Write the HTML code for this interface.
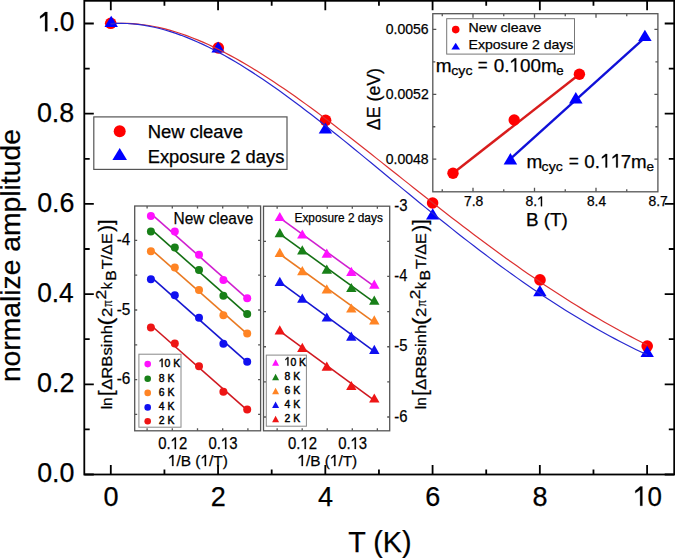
<!DOCTYPE html>
<html><head><meta charset="utf-8"><style>html,body{margin:0;padding:0;background:#fff;}svg{display:block}text{font-family:"Liberation Sans",sans-serif;fill:#000;stroke:#000;stroke-width:0.25px}</style></head>
<body><svg width="675" height="558" viewBox="0 0 675 558">
<rect width="675" height="558" fill="#fff"/>
<circle cx="110.70" cy="23.30" r="5.8" fill="#f00"/>
<circle cx="218.30" cy="47.90" r="5.8" fill="#f00"/>
<circle cx="325.60" cy="120.30" r="5.8" fill="#f00"/>
<circle cx="432.60" cy="203.00" r="5.8" fill="#f00"/>
<circle cx="540.00" cy="279.90" r="5.8" fill="#f00"/>
<circle cx="647.20" cy="346.10" r="5.8" fill="#f00"/>
<path d="M111.20,15.80L117.90,27.00L104.50,27.00Z" fill="#00f"/>
<path d="M218.10,41.40L224.80,52.60L211.40,52.60Z" fill="#00f"/>
<path d="M325.40,122.40L332.10,133.60L318.70,133.60Z" fill="#00f"/>
<path d="M432.70,208.20L439.40,219.40L426.00,219.40Z" fill="#00f"/>
<path d="M539.90,285.00L546.60,296.20L533.20,296.20Z" fill="#00f"/>
<path d="M647.20,345.70L653.90,356.90L640.50,356.90Z" fill="#00f"/>
<polyline points="110.80,23.75 116.22,23.43 121.63,23.30 127.05,23.37 132.47,23.64 137.89,24.09 143.30,24.72 148.72,25.53 154.14,26.50 159.55,27.65 164.97,28.95 170.39,30.41 175.81,32.02 181.22,33.77 186.64,35.67 192.06,37.70 197.47,39.87 202.89,42.16 208.31,44.57 213.73,47.10 219.14,49.75 224.56,52.50 229.98,55.36 235.39,58.32 240.81,61.38 246.23,64.52 251.65,67.76 257.06,71.08 262.48,74.48 267.90,77.96 273.32,81.51 278.73,85.13 284.15,88.81 289.57,92.56 294.98,96.36 300.40,100.22 305.82,104.13 311.24,108.09 316.65,112.09 322.07,116.13 327.49,120.21 332.90,124.32 338.32,128.47 343.74,132.64 349.16,136.84 354.57,141.06 359.99,145.30 365.41,149.56 370.82,153.83 376.24,158.11 381.66,162.40 387.08,166.70 392.49,171.00 397.91,175.31 403.33,179.61 408.74,183.90 414.16,188.20 419.58,192.48 425.00,196.76 430.41,201.02 435.83,205.27 441.25,209.50 446.66,213.71 452.08,217.91 457.50,222.08 462.92,226.23 468.33,230.35 473.75,234.45 479.17,238.52 484.58,242.56 490.00,246.56 495.42,250.54 500.84,254.48 506.25,258.39 511.67,262.26 517.09,266.09 522.51,269.89 527.92,273.65 533.34,277.36 538.76,281.04 544.17,284.67 549.59,288.26 555.01,291.81 560.43,295.31 565.84,298.77 571.26,302.18 576.68,305.55 582.09,308.87 587.51,312.14 592.93,315.37 598.35,318.55 603.76,321.69 609.18,324.77 614.60,327.81 620.01,330.81 625.43,333.75 630.85,336.65 636.27,339.50 641.68,342.31 647.10,345.07" fill="none" stroke="#dc3030" stroke-width="1.2"/>
<polyline points="110.80,23.59 116.22,23.35 121.63,23.32 127.05,23.49 132.47,23.86 137.89,24.43 143.30,25.19 148.72,26.13 154.14,27.24 159.55,28.53 164.97,29.99 170.39,31.61 175.81,33.38 181.22,35.31 186.64,37.38 192.06,39.59 197.47,41.94 202.89,44.42 208.31,47.03 213.73,49.75 219.14,52.60 224.56,55.56 229.98,58.62 235.39,61.79 240.81,65.06 246.23,68.42 251.65,71.87 257.06,75.41 262.48,79.02 267.90,82.72 273.32,86.49 278.73,90.32 284.15,94.23 289.57,98.19 294.98,102.21 300.40,106.29 305.82,110.41 311.24,114.58 316.65,118.80 322.07,123.05 327.49,127.34 332.90,131.66 338.32,136.01 343.74,140.39 349.16,144.79 354.57,149.21 359.99,153.64 365.41,158.09 370.82,162.55 376.24,167.02 381.66,171.49 387.08,175.96 392.49,180.43 397.91,184.90 403.33,189.37 408.74,193.82 414.16,198.27 419.58,202.70 425.00,207.11 430.41,211.51 435.83,215.89 441.25,220.24 446.66,224.57 452.08,228.88 457.50,233.16 462.92,237.41 468.33,241.62 473.75,245.80 479.17,249.95 484.58,254.06 490.00,258.13 495.42,262.17 500.84,266.16 506.25,270.11 511.67,274.01 517.09,277.87 522.51,281.68 527.92,285.45 533.34,289.17 538.76,292.84 544.17,296.45 549.59,300.02 555.01,303.54 560.43,307.00 565.84,310.41 571.26,313.76 576.68,317.06 582.09,320.31 587.51,323.50 592.93,326.63 598.35,329.71 603.76,332.73 609.18,335.70 614.60,338.61 620.01,341.46 625.43,344.26 630.85,347.00 636.27,349.68 641.68,352.31 647.10,354.88" fill="none" stroke="#2828d0" stroke-width="1.2"/>
<rect x="84.3" y="0.8" width="589.90" height="473.70" fill="none" stroke="#000" stroke-width="1.8"/>
<path d="M110.80,474.5v-9.5M110.80,0.8v9.5M164.43,474.5v-5M164.43,0.8v5M218.06,474.5v-9.5M218.06,0.8v9.5M271.69,474.5v-5M271.69,0.8v5M325.32,474.5v-9.5M325.32,0.8v9.5M378.95,474.5v-5M378.95,0.8v5M432.58,474.5v-9.5M432.58,0.8v9.5M486.21,474.5v-5M486.21,0.8v5M539.84,474.5v-9.5M539.84,0.8v9.5M593.47,474.5v-5M593.47,0.8v5M647.10,474.5v-9.5M647.10,0.8v9.5M84.3,474.50h9.5M674.2,474.50h-9.5M84.3,429.40h5.4M674.2,429.40h-5.4M84.3,384.30h9.5M674.2,384.30h-9.5M84.3,339.20h5.4M674.2,339.20h-5.4M84.3,294.10h9.5M674.2,294.10h-9.5M84.3,249.00h5.4M674.2,249.00h-5.4M84.3,203.90h9.5M674.2,203.90h-9.5M84.3,158.80h5.4M674.2,158.80h-5.4M84.3,113.70h9.5M674.2,113.70h-9.5M84.3,68.60h5.4M674.2,68.60h-5.4M84.3,23.50h9.5M674.2,23.50h-9.5" stroke="#000" stroke-width="1.8" fill="none"/>
<text x="111.10" y="505.80" font-size="27" text-anchor="middle">0</text>
<text x="218.36" y="505.80" font-size="27" text-anchor="middle">2</text>
<text x="325.62" y="505.80" font-size="27" text-anchor="middle">4</text>
<text x="432.88" y="505.80" font-size="27" text-anchor="middle">6</text>
<text x="540.14" y="505.80" font-size="27" text-anchor="middle">8</text>
<text x="633.06" y="505.80" font-size="27" textLength="28.81" lengthAdjust="spacingAndGlyphs"> 0</text>
<path d="M642.38,505.80L642.38,486.58L640.15,486.58L637.72,488.79L635.28,490.79L635.28,493.11L637.72,491.49L640.15,489.71L640.15,505.80Z" fill="#000" stroke="#000" stroke-width="0.25"/>
<text x="37.23" y="482.30" font-size="27" textLength="37.25" lengthAdjust="spacingAndGlyphs">0.0</text>
<text x="37.12" y="392.10" font-size="27" textLength="37.43" lengthAdjust="spacingAndGlyphs">0.2</text>
<text x="37.15" y="301.90" font-size="27" textLength="36.54" lengthAdjust="spacingAndGlyphs">0.4</text>
<text x="37.13" y="211.70" font-size="27" textLength="37.28" lengthAdjust="spacingAndGlyphs">0.6</text>
<text x="36.92" y="121.50" font-size="27" textLength="37.39" lengthAdjust="spacingAndGlyphs">0.8</text>
<text x="37.82" y="31.30" font-size="27" textLength="36.74" lengthAdjust="spacingAndGlyphs"> .0</text>
<path d="M47.33,31.30L47.33,12.08L45.06,12.08L42.58,14.29L40.09,16.29L40.09,18.61L42.58,16.99L45.06,15.21L45.06,31.30Z" fill="#000" stroke="#000" stroke-width="0.25"/>
<text x="348.18" y="551.60" font-size="29" textLength="63.35" lengthAdjust="spacingAndGlyphs">T (K)</text>
<text transform="translate(20,255.6) rotate(-90)" font-size="28.5" text-anchor="middle" textLength="253" lengthAdjust="spacingAndGlyphs">normalize amplitude</text>
<rect x="93.8" y="116.9" width="193.2" height="52.5" fill="#fff" stroke="#555" stroke-width="1.2"/>
<circle cx="119.70" cy="131.30" r="6" fill="#f00"/>
<path d="M119.70,148.00L127.00,160.00L112.40,160.00Z" fill="#00f"/>
<text x="147.67" y="137.80" font-size="17.5" textLength="95.49" lengthAdjust="spacingAndGlyphs">New cleave</text>
<text x="147.68" y="162.60" font-size="17.5" textLength="136.68" lengthAdjust="spacingAndGlyphs">Exposure 2 days</text>
<rect x="432.8" y="13.7" width="225.10" height="178.10" fill="#fff" stroke="#555" stroke-width="1.3"/>
<path d="M442.25,191.8v-2.5M442.25,13.7v2.5M473.00,191.8v-4M473.00,13.7v4M503.75,191.8v-2.5M503.75,13.7v2.5M534.50,191.8v-4M534.50,13.7v4M565.25,191.8v-2.5M565.25,13.7v2.5M596.00,191.8v-4M596.00,13.7v4M626.75,191.8v-2.5M626.75,13.7v2.5M432.8,159.20h3.5M657.9,159.20h-3.5M432.8,126.75h2.5M657.9,126.75h-2.5M432.8,94.30h3.5M657.9,94.30h-3.5M432.8,61.85h2.5M657.9,61.85h-2.5M432.8,29.40h3.5M657.9,29.40h-3.5" stroke="#555" stroke-width="1.3" fill="none"/>
<text x="463.91" y="206.30" font-size="13.8" textLength="19.32" lengthAdjust="spacingAndGlyphs">7.8</text>
<text x="525.47" y="206.30" font-size="13.8" textLength="19.32" lengthAdjust="spacingAndGlyphs">8. </text>
<path d="M542.07,206.30L542.07,196.47L540.88,196.47L539.57,197.61L538.26,198.63L538.26,199.81L539.57,198.99L540.88,198.08L540.88,206.30Z" fill="#000" stroke="#000" stroke-width="0.25"/>
<text x="586.98" y="206.30" font-size="13.8" textLength="19.03" lengthAdjust="spacingAndGlyphs">8.4</text>
<text x="648.47" y="206.30" font-size="13.8" textLength="19.32" lengthAdjust="spacingAndGlyphs">8.7</text>
<text x="385.79" y="163.60" font-size="14.5" textLength="42.87" lengthAdjust="spacingAndGlyphs">0.0048</text>
<text x="385.79" y="98.70" font-size="14.5" textLength="42.94" lengthAdjust="spacingAndGlyphs">0.0052</text>
<text x="385.79" y="33.80" font-size="14.5" textLength="42.87" lengthAdjust="spacingAndGlyphs">0.0056</text>
<text x="525.94" y="225.60" font-size="17.5" textLength="41.98" lengthAdjust="spacingAndGlyphs">B (T)</text>
<text transform="translate(379.70,130.18) rotate(-90)" font-size="17.5" textLength="62.23" lengthAdjust="spacingAndGlyphs">ΔE (eV)</text>
<path d="M453,173.3L579.4,74.2" stroke="#d81c1c" stroke-width="2.4"/>
<path d="M510.4,158.9L644.9,37.6" stroke="#1010d8" stroke-width="2.4"/>
<circle cx="453.00" cy="173.30" r="5.7" fill="#f00"/>
<circle cx="514.20" cy="120.00" r="5.7" fill="#f00"/>
<circle cx="579.40" cy="74.20" r="5.7" fill="#f00"/>
<path d="M510.40,153.00L517.15,164.40L503.65,164.40Z" fill="#00f"/>
<path d="M575.80,92.00L582.55,103.40L569.05,103.40Z" fill="#00f"/>
<path d="M644.90,29.70L651.65,41.10L638.15,41.10Z" fill="#00f"/>
<rect x="446.7" y="18.7" width="127.8" height="35.4" fill="#fff" stroke="#777" stroke-width="1"/>
<circle cx="455.70" cy="29.60" r="3.8" fill="#f00"/>
<path d="M455.70,42.80L460.00,49.40L451.40,49.40Z" fill="#00f"/>
<text x="468.52" y="32.20" font-size="13.5" textLength="72.74" lengthAdjust="spacingAndGlyphs">New cleave</text>
<text x="468.52" y="49.40" font-size="13.5" textLength="104.87" lengthAdjust="spacingAndGlyphs">Exposure 2 days</text>
<text x="435.81" y="71.80" font-size="19" textLength="15.83" lengthAdjust="spacingAndGlyphs">m</text>
<text x="451.31" y="74.70" font-size="13.5" textLength="21.19" lengthAdjust="spacingAndGlyphs">cyc</text>
<text x="477.70" y="70.90" font-size="19" textLength="9.87" lengthAdjust="spacingAndGlyphs">=</text>
<text x="493.69" y="71.80" font-size="19" textLength="62.99" lengthAdjust="spacingAndGlyphs">0. 00m</text>
<path d="M516.24,71.80L516.24,58.27L514.62,58.27L512.84,59.83L511.07,61.24L511.07,62.87L512.84,61.73L514.62,60.48L514.62,71.80Z" fill="#000" stroke="#000" stroke-width="0.25"/>
<text x="556.35" y="74.60" font-size="13.5" textLength="7.42" lengthAdjust="spacingAndGlyphs">e</text>
<text x="526.41" y="167.50" font-size="19" textLength="15.83" lengthAdjust="spacingAndGlyphs">m</text>
<text x="541.62" y="170.70" font-size="13.5" textLength="21.08" lengthAdjust="spacingAndGlyphs">cyc</text>
<text x="568.68" y="166.60" font-size="19" textLength="10.11" lengthAdjust="spacingAndGlyphs">=</text>
<text x="584.28" y="167.50" font-size="19" textLength="62.43" lengthAdjust="spacingAndGlyphs">0.  7m</text>
<path d="M607.14,167.50L607.14,153.97L605.50,153.97L603.70,155.53L601.90,156.94L601.90,158.57L603.70,157.43L605.50,156.18L605.50,167.50ZM617.79,167.50L617.79,153.97L616.14,153.97L614.34,155.53L612.54,156.94L612.54,158.57L614.34,157.43L616.14,156.18L616.14,167.50Z" fill="#000" stroke="#000" stroke-width="0.25"/>
<text x="646.44" y="170.50" font-size="13.5" textLength="7.54" lengthAdjust="spacingAndGlyphs">e</text>
<rect x="134.7" y="206" width="125.90" height="224.80" fill="#fff" stroke="#555" stroke-width="1.3"/>
<path d="M147.10,430.8v-2.5M147.10,206v2.5M172.30,430.8v-2.5M172.30,206v2.5M197.50,430.8v-2.5M197.50,206v2.5M222.70,430.8v-2.5M222.70,206v2.5M247.90,430.8v-2.5M247.90,206v2.5M134.7,240.40h2.5M260.6,240.40h-2.5M134.7,275.20h2.5M260.6,275.20h-2.5M134.7,310.00h2.5M260.6,310.00h-2.5M134.7,344.80h2.5M260.6,344.80h-2.5M134.7,379.60h2.5M260.6,379.60h-2.5M134.7,414.40h2.5M260.6,414.40h-2.5" stroke="#555" stroke-width="1.3" fill="none"/>
<path d="M150.9,213.58L247.2,298.60" stroke="#d020d0" stroke-width="1.6"/>
<circle cx="150.90" cy="216.00" r="4" fill="#ff10ff"/>
<circle cx="174.80" cy="231.60" r="4" fill="#ff10ff"/>
<circle cx="199.00" cy="254.70" r="4" fill="#ff10ff"/>
<circle cx="223.40" cy="279.90" r="4" fill="#ff10ff"/>
<circle cx="247.20" cy="298.30" r="4" fill="#ff10ff"/>
<path d="M150.9,229.22L247.2,314.28" stroke="#137013" stroke-width="1.6"/>
<circle cx="150.90" cy="231.60" r="4" fill="#188018"/>
<circle cx="174.80" cy="247.40" r="4" fill="#188018"/>
<circle cx="199.00" cy="270.10" r="4" fill="#188018"/>
<circle cx="223.40" cy="295.80" r="4" fill="#188018"/>
<circle cx="247.20" cy="313.90" r="4" fill="#188018"/>
<path d="M150.9,249.14L247.2,333.80" stroke="#ea7a22" stroke-width="1.6"/>
<circle cx="150.90" cy="251.20" r="4" fill="#ff8424"/>
<circle cx="174.80" cy="267.60" r="4" fill="#ff8424"/>
<circle cx="199.00" cy="290.00" r="4" fill="#ff8424"/>
<circle cx="223.40" cy="315.20" r="4" fill="#ff8424"/>
<circle cx="247.20" cy="333.40" r="4" fill="#ff8424"/>
<path d="M150.9,276.90L247.2,362.12" stroke="#1616d0" stroke-width="1.6"/>
<circle cx="150.90" cy="279.20" r="4" fill="#1010f0"/>
<circle cx="174.80" cy="295.30" r="4" fill="#1010f0"/>
<circle cx="199.00" cy="317.70" r="4" fill="#1010f0"/>
<circle cx="223.40" cy="343.70" r="4" fill="#1010f0"/>
<circle cx="247.20" cy="361.70" r="4" fill="#1010f0"/>
<path d="M150.9,325.26L247.2,410.16" stroke="#d01820" stroke-width="1.6"/>
<circle cx="150.90" cy="327.50" r="4" fill="#ee1515"/>
<circle cx="174.80" cy="343.40" r="4" fill="#ee1515"/>
<circle cx="199.00" cy="366.30" r="4" fill="#ee1515"/>
<circle cx="223.40" cy="391.80" r="4" fill="#ee1515"/>
<circle cx="247.20" cy="409.60" r="4" fill="#ee1515"/>
<text x="173.52" y="223.80" font-size="16.5" textLength="79.71" lengthAdjust="spacingAndGlyphs">New cleave</text>
<text x="116.67" y="245.00" font-size="17" textLength="13.42" lengthAdjust="spacingAndGlyphs">-4</text>
<text x="116.66" y="314.60" font-size="17" textLength="13.67" lengthAdjust="spacingAndGlyphs">-5</text>
<text x="116.66" y="384.20" font-size="17" textLength="13.67" lengthAdjust="spacingAndGlyphs">-6</text>
<text x="158.15" y="449.00" font-size="16.2" textLength="29.06" lengthAdjust="spacingAndGlyphs">0. 2</text>
<path d="M175.98,449.00L175.98,437.47L174.70,437.47L173.29,438.79L171.89,439.99L171.89,441.39L173.29,440.41L174.70,439.34L174.70,449.00Z" fill="#000" stroke="#000" stroke-width="0.25"/>
<text x="208.55" y="449.00" font-size="16.2" textLength="28.99" lengthAdjust="spacingAndGlyphs">0. 3</text>
<path d="M226.34,449.00L226.34,437.47L225.05,437.47L223.66,438.79L222.26,439.99L222.26,441.39L223.66,440.41L225.05,439.34L225.05,449.00Z" fill="#000" stroke="#000" stroke-width="0.25"/>
<text x="167.89" y="466.00" font-size="15.5" textLength="60.06" lengthAdjust="spacingAndGlyphs"> /B ( /T)</text>
<path d="M173.45,466.00L173.45,454.96L172.12,454.96L170.67,456.24L169.22,457.38L169.22,458.71L170.67,457.79L172.12,456.76L172.12,466.00ZM206.06,466.00L206.06,454.96L204.73,454.96L203.28,456.24L201.83,457.38L201.83,458.71L203.28,457.79L204.73,456.76L204.73,466.00Z" fill="#000" stroke="#000" stroke-width="0.25"/>
<text transform="translate(111.50,409.36) rotate(-90)" font-size="15.5" textLength="12.09" lengthAdjust="spacingAndGlyphs">ln</text>
<text transform="translate(113.00,395.95) rotate(-90)" font-size="21" textLength="5.56" lengthAdjust="spacingAndGlyphs">[</text>
<text transform="translate(111.50,389.85) rotate(-90)" font-size="15.5" textLength="64.81" lengthAdjust="spacingAndGlyphs">ΔRBsinh</text>
<text transform="translate(113.00,325.55) rotate(-90)" font-size="21" textLength="7.79" lengthAdjust="spacingAndGlyphs">(</text>
<text transform="translate(111.50,317.09) rotate(-90)" font-size="15.5" textLength="9.29" lengthAdjust="spacingAndGlyphs">2</text>
<text transform="translate(111.50,306.95) rotate(-90)" font-size="12.5" textLength="6.96" lengthAdjust="spacingAndGlyphs">π</text>
<text transform="translate(106.10,299.52) rotate(-90)" font-size="14" textLength="9.66" lengthAdjust="spacingAndGlyphs">2</text>
<text transform="translate(111.50,289.16) rotate(-90)" font-size="15.5" textLength="7.01" lengthAdjust="spacingAndGlyphs">k</text>
<text transform="translate(115.80,280.81) rotate(-90)" font-size="14" textLength="10.47" lengthAdjust="spacingAndGlyphs">B</text>
<text transform="translate(111.50,269.25) rotate(-90)" font-size="15.5" textLength="35.91" lengthAdjust="spacingAndGlyphs">T/ΔE</text>
<text transform="translate(113.00,231.75) rotate(-90)" font-size="21" textLength="6.66" lengthAdjust="spacingAndGlyphs">)</text>
<text transform="translate(113.00,225.04) rotate(-90)" font-size="21" textLength="5.42" lengthAdjust="spacingAndGlyphs">]</text>
<rect x="138.9" y="354.2" width="42.10" height="73.00" fill="#fff" stroke="#888" stroke-width="1"/>
<circle cx="147.70" cy="364.10" r="3.3" fill="#ff10ff"/>
<text x="158.80" y="367.10" font-size="11.8" textLength="21.5" lengthAdjust="spacingAndGlyphs" style="stroke-width:0.45px"> 0 K</text>
<path d="M162.56,367.10L162.56,358.70L161.66,358.70L160.68,359.67L159.70,360.54L159.70,361.55L160.68,360.85L161.66,360.07L161.66,367.10Z" fill="#000" stroke="#000" stroke-width="0.45"/>
<circle cx="147.70" cy="378.80" r="3.3" fill="#188018"/>
<text x="158.80" y="381.80" font-size="11.8" textLength="15.6" lengthAdjust="spacingAndGlyphs" style="stroke-width:0.45px">8 K</text>
<circle cx="147.70" cy="392.90" r="3.3" fill="#ff8424"/>
<text x="158.80" y="395.90" font-size="11.8" textLength="15.6" lengthAdjust="spacingAndGlyphs" style="stroke-width:0.45px">6 K</text>
<circle cx="147.70" cy="407.40" r="3.3" fill="#1010f0"/>
<text x="158.80" y="410.40" font-size="11.8" textLength="15.6" lengthAdjust="spacingAndGlyphs" style="stroke-width:0.45px">4 K</text>
<circle cx="147.70" cy="421.30" r="3.3" fill="#ee1515"/>
<text x="158.80" y="424.30" font-size="11.8" textLength="15.6" lengthAdjust="spacingAndGlyphs" style="stroke-width:0.45px">2 K</text>
<rect x="263.5" y="206.2" width="126.20" height="224.60" fill="#fff" stroke="#555" stroke-width="1.3"/>
<path d="M277.15,430.8v-2.5M277.15,206.2v2.5M302.20,430.8v-2.5M302.20,206.2v2.5M327.25,430.8v-2.5M327.25,206.2v2.5M352.30,430.8v-2.5M352.30,206.2v2.5M377.35,430.8v-2.5M377.35,206.2v2.5M263.5,241.33h2.5M389.7,241.33h-2.5M263.5,276.47h2.5M389.7,276.47h-2.5M263.5,311.61h2.5M389.7,311.61h-2.5M263.5,346.74h2.5M389.7,346.74h-2.5M263.5,381.88h2.5M389.7,381.88h-2.5M263.5,417.01h2.5M389.7,417.01h-2.5" stroke="#555" stroke-width="1.3" fill="none"/>
<path d="M279.8,217.86L374.3,286.40" stroke="#d020d0" stroke-width="1.6"/>
<path d="M279.80,211.90L285.00,221.10L274.60,221.10Z" fill="#ff10ff"/>
<path d="M302.30,229.40L307.50,238.60L297.10,238.60Z" fill="#ff10ff"/>
<path d="M326.80,248.50L332.00,257.70L321.60,257.70Z" fill="#ff10ff"/>
<path d="M351.30,266.80L356.50,276.00L346.10,276.00Z" fill="#ff10ff"/>
<path d="M374.30,279.50L379.50,288.70L369.10,288.70Z" fill="#ff10ff"/>
<path d="M279.8,233.85L374.3,302.44" stroke="#137013" stroke-width="1.6"/>
<path d="M279.80,228.00L285.00,237.20L274.60,237.20Z" fill="#188018"/>
<path d="M302.30,245.20L307.50,254.40L297.10,254.40Z" fill="#188018"/>
<path d="M326.80,264.60L332.00,273.80L321.60,273.80Z" fill="#188018"/>
<path d="M351.30,282.90L356.50,292.10L346.10,292.10Z" fill="#188018"/>
<path d="M374.30,295.50L379.50,304.70L369.10,304.70Z" fill="#188018"/>
<path d="M279.8,254.00L374.3,322.46" stroke="#ea7a22" stroke-width="1.6"/>
<path d="M279.80,247.70L285.00,256.90L274.60,256.90Z" fill="#ff8424"/>
<path d="M302.30,266.00L307.50,275.20L297.10,275.20Z" fill="#ff8424"/>
<path d="M326.80,284.30L332.00,293.50L321.60,293.50Z" fill="#ff8424"/>
<path d="M351.30,303.40L356.50,312.60L346.10,312.60Z" fill="#ff8424"/>
<path d="M374.30,315.20L379.50,324.40L369.10,324.40Z" fill="#ff8424"/>
<path d="M279.8,282.14L374.3,351.28" stroke="#1616d0" stroke-width="1.6"/>
<path d="M279.80,276.70L285.00,285.90L274.60,285.90Z" fill="#1010f0"/>
<path d="M302.30,293.60L307.50,302.80L297.10,302.80Z" fill="#1010f0"/>
<path d="M326.80,312.40L332.00,321.60L321.60,321.60Z" fill="#1010f0"/>
<path d="M351.30,331.50L356.50,340.70L346.10,340.70Z" fill="#1010f0"/>
<path d="M374.30,344.80L379.50,354.00L369.10,354.00Z" fill="#1010f0"/>
<path d="M279.8,331.04L374.3,400.34" stroke="#d01820" stroke-width="1.6"/>
<path d="M279.80,325.20L285.00,334.40L274.60,334.40Z" fill="#ee1515"/>
<path d="M302.30,342.80L307.50,352.00L297.10,352.00Z" fill="#ee1515"/>
<path d="M326.80,361.60L332.00,370.80L321.60,370.80Z" fill="#ee1515"/>
<path d="M351.30,380.90L356.50,390.10L346.10,390.10Z" fill="#ee1515"/>
<path d="M374.30,393.40L379.50,402.60L369.10,402.60Z" fill="#ee1515"/>
<text x="294.50" y="222.40" font-size="12.5" textLength="88.31" lengthAdjust="spacingAndGlyphs">Exposure 2 days</text>
<text x="394.28" y="210.80" font-size="17" textLength="13.23" lengthAdjust="spacingAndGlyphs">-3</text>
<text x="394.29" y="281.07" font-size="17" textLength="12.98" lengthAdjust="spacingAndGlyphs">-4</text>
<text x="394.28" y="351.34" font-size="17" textLength="13.23" lengthAdjust="spacingAndGlyphs">-5</text>
<text x="394.28" y="421.61" font-size="17" textLength="13.23" lengthAdjust="spacingAndGlyphs">-6</text>
<text x="288.05" y="449.00" font-size="16.2" textLength="29.06" lengthAdjust="spacingAndGlyphs">0. 2</text>
<path d="M305.88,449.00L305.88,437.47L304.60,437.47L303.19,438.79L301.79,439.99L301.79,441.39L303.19,440.41L304.60,439.34L304.60,449.00Z" fill="#000" stroke="#000" stroke-width="0.25"/>
<text x="338.15" y="449.00" font-size="16.2" textLength="28.99" lengthAdjust="spacingAndGlyphs">0. 3</text>
<path d="M355.94,449.00L355.94,437.47L354.65,437.47L353.26,438.79L351.86,439.99L351.86,441.39L353.26,440.41L354.65,439.34L354.65,449.00Z" fill="#000" stroke="#000" stroke-width="0.25"/>
<text x="297.40" y="466.00" font-size="15.5" textLength="59.85" lengthAdjust="spacingAndGlyphs"> /B ( /T)</text>
<path d="M302.94,466.00L302.94,454.96L301.61,454.96L300.17,456.24L298.72,457.38L298.72,458.71L300.17,457.79L301.61,456.76L301.61,466.00ZM335.43,466.00L335.43,454.96L334.11,454.96L332.66,456.24L331.21,457.38L331.21,458.71L332.66,457.79L334.11,456.76L334.11,466.00Z" fill="#000" stroke="#000" stroke-width="0.25"/>
<text transform="translate(425.50,409.16) rotate(-90)" font-size="15.5" textLength="12.09" lengthAdjust="spacingAndGlyphs">ln</text>
<text transform="translate(427.00,395.75) rotate(-90)" font-size="21" textLength="5.56" lengthAdjust="spacingAndGlyphs">[</text>
<text transform="translate(425.50,389.65) rotate(-90)" font-size="15.5" textLength="64.81" lengthAdjust="spacingAndGlyphs">ΔRBsinh</text>
<text transform="translate(427.00,325.35) rotate(-90)" font-size="21" textLength="7.79" lengthAdjust="spacingAndGlyphs">(</text>
<text transform="translate(425.50,316.89) rotate(-90)" font-size="15.5" textLength="9.29" lengthAdjust="spacingAndGlyphs">2</text>
<text transform="translate(425.50,306.75) rotate(-90)" font-size="12.5" textLength="6.96" lengthAdjust="spacingAndGlyphs">π</text>
<text transform="translate(420.10,299.32) rotate(-90)" font-size="14" textLength="9.66" lengthAdjust="spacingAndGlyphs">2</text>
<text transform="translate(425.50,288.96) rotate(-90)" font-size="15.5" textLength="7.01" lengthAdjust="spacingAndGlyphs">k</text>
<text transform="translate(429.80,280.61) rotate(-90)" font-size="14" textLength="10.47" lengthAdjust="spacingAndGlyphs">B</text>
<text transform="translate(425.50,269.05) rotate(-90)" font-size="15.5" textLength="35.91" lengthAdjust="spacingAndGlyphs">T/ΔE</text>
<text transform="translate(427.00,231.55) rotate(-90)" font-size="21" textLength="6.66" lengthAdjust="spacingAndGlyphs">)</text>
<text transform="translate(427.00,224.84) rotate(-90)" font-size="21" textLength="5.42" lengthAdjust="spacingAndGlyphs">]</text>
<rect x="266.3" y="355.1" width="40.10" height="71.10" fill="#fff" stroke="#888" stroke-width="1"/>
<path d="M275.60,359.35L279.10,365.85L272.10,365.85Z" fill="#ff10ff"/>
<text x="284.60" y="365.60" font-size="11.8" textLength="21.5" lengthAdjust="spacingAndGlyphs" style="stroke-width:0.45px"> 0 K</text>
<path d="M288.36,365.60L288.36,357.20L287.46,357.20L286.48,358.17L285.50,359.04L285.50,360.05L286.48,359.35L287.46,358.57L287.46,365.60Z" fill="#000" stroke="#000" stroke-width="0.45"/>
<path d="M275.60,373.65L279.10,380.15L272.10,380.15Z" fill="#188018"/>
<text x="284.60" y="379.90" font-size="11.8" textLength="15.6" lengthAdjust="spacingAndGlyphs" style="stroke-width:0.45px">8 K</text>
<path d="M275.60,387.75L279.10,394.25L272.10,394.25Z" fill="#ff8424"/>
<text x="284.60" y="394.00" font-size="11.8" textLength="15.6" lengthAdjust="spacingAndGlyphs" style="stroke-width:0.45px">6 K</text>
<path d="M275.60,401.55L279.10,408.05L272.10,408.05Z" fill="#1010f0"/>
<text x="284.60" y="407.80" font-size="11.8" textLength="15.6" lengthAdjust="spacingAndGlyphs" style="stroke-width:0.45px">4 K</text>
<path d="M275.60,415.75L279.10,422.25L272.10,422.25Z" fill="#ee1515"/>
<text x="284.60" y="422.00" font-size="11.8" textLength="15.6" lengthAdjust="spacingAndGlyphs" style="stroke-width:0.45px">2 K</text>
</svg></body></html>
